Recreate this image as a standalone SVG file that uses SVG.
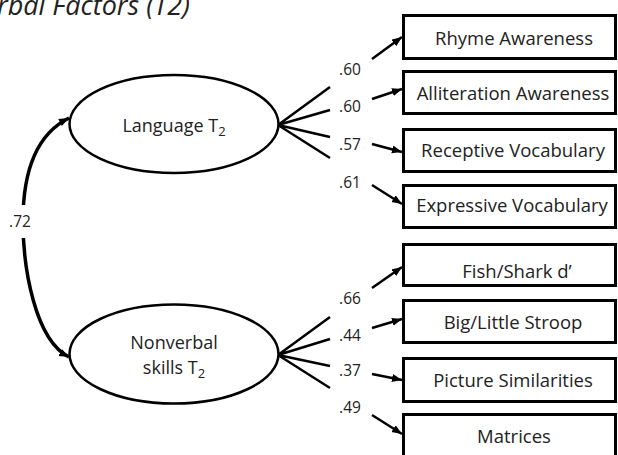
<svg xmlns="http://www.w3.org/2000/svg" width="618" height="455" viewBox="0 0 618 455">
<defs>
<style>
text{font-family:"Open Sans","Noto Sans","Liberation Sans",sans-serif;fill:#222}
.box{fill:#fff;stroke:#000;stroke-width:3}
.lat{fill:#fff;stroke:#000;stroke-width:2.5}
.bt{font-size:18.5px;text-anchor:middle}
.lt{font-size:18px;text-anchor:middle}
.w{font-size:15.5px;text-anchor:middle}
.ln{fill:none;stroke:#000;stroke-width:2.5}
.ar{fill:none;stroke:#000;stroke-width:2.5;marker-end:url(#ah)}
.cv{fill:none;stroke:#000;stroke-width:3.5;marker-start:url(#ahs);marker-end:url(#ah2)}
</style>
<marker id="ah" markerUnits="userSpaceOnUse" markerWidth="12" markerHeight="10" refX="10" refY="4" orient="auto"><path d="M0,0 L10,4 L0,8 Z" fill="#000"/></marker>
<marker id="ah2" markerUnits="userSpaceOnUse" markerWidth="12" markerHeight="10" refX="10" refY="4" orient="auto"><path d="M0,0 L10,4 L0,8 Z" fill="#000"/></marker>
<marker id="ahs" markerUnits="userSpaceOnUse" markerWidth="12" markerHeight="10" refX="0" refY="4" orient="auto"><path d="M10,0 L0,4 L10,8 Z" fill="#000"/></marker>
</defs>
<rect width="618" height="455" fill="#fff"/>
<text x="-3" y="15" style="font-size:27px;font-style:italic">rbal Factors (T2)</text>

<g id="connectors">
<path class="cv" d="M69,118 C35,135 23,175 23,221 C23,268 35,340 69,357"/>
<rect x="6" y="205" width="32" height="33" fill="#fff"/>
<text class="w" x="20" y="227">.72</text>
<path class="ln" d="M278,125 L330,87 M278,125 L330,110 M278,125 L330,137 M278,125 L330,158"/>
<path class="ln" d="M278,355 L330,317 M278,355 L330,339 M278,355 L330,366 M278,355 L330,388"/>
<path class="ar" d="M372,59 L402,37"/>
<path class="ar" d="M372,99 L402,89"/>
<path class="ar" d="M372,144 L402,152"/>
<path class="ar" d="M372,185 L402,204"/>
<path class="ar" d="M372,288 L402,267"/>
<path class="ar" d="M372,328 L402,319"/>
<path class="ar" d="M372,374 L402,380"/>
<path class="ar" d="M372,415 L402,434"/>
<text class="w" x="350" y="75">.60</text>
<text class="w" x="350" y="112">.60</text>
<text class="w" x="350" y="150">.57</text>
<text class="w" x="350" y="188">.61</text>
<text class="w" x="350" y="304">.66</text>
<text class="w" x="350" y="341">.44</text>
<text class="w" x="350" y="376">.37</text>
<text class="w" x="350" y="413">.49</text>
</g>

<g id="language">
<ellipse class="lat" cx="174" cy="124" rx="104.5" ry="49"/>
<text class="lt" x="174" y="132">Language T<tspan style="font-size:13px" dy="4">2</tspan></text>
</g>
<g id="nonverbal">
<ellipse class="lat" cx="174" cy="354" rx="104.5" ry="49.5"/>
<text class="lt" x="174" y="349">Nonverbal</text>
<text class="lt" x="174" y="374">skills T<tspan style="font-size:13px" dy="4">2</tspan></text>
</g>

<g id="rhyme"><rect class="box" x="403.5" y="15.5" width="212" height="43"/><text class="bt" x="514" y="45">Rhyme Awareness</text></g>
<g id="alliteration"><rect class="box" x="403.5" y="71.5" width="212" height="42"/><text class="bt" x="513" y="100">Alliteration Awareness</text></g>
<g id="receptive"><rect class="box" x="403.5" y="129.5" width="212" height="42"/><text class="bt" x="513" y="157">Receptive Vocabulary</text></g>
<g id="expressive"><rect class="box" x="403.5" y="185.5" width="212" height="42"/><text class="bt" x="512" y="212">Expressive Vocabulary</text></g>
<g id="fishshark"><rect class="box" x="403.5" y="244.5" width="212" height="41"/><text class="bt" x="517" y="278">Fish/Shark d’</text></g>
<g id="stroop"><rect class="box" x="403.5" y="300.5" width="212" height="42"/><text class="bt" x="513" y="329">Big/Little Stroop</text></g>
<g id="picture"><rect class="box" x="403.5" y="358.5" width="212" height="43"/><text class="bt" x="513" y="387">Picture Similarities</text></g>
<g id="matrices"><rect class="box" x="403.5" y="414.5" width="212" height="50"/><text class="bt" x="514" y="443">Matrices</text></g>
</svg>
